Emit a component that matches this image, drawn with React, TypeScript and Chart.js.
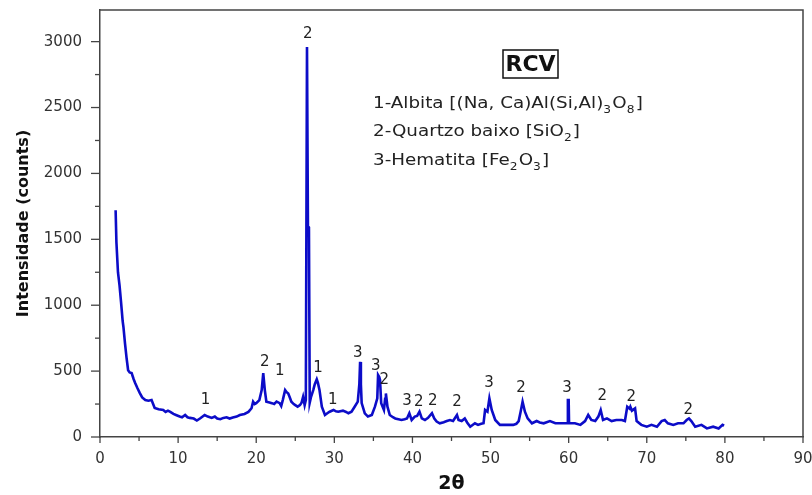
import React, { useEffect, useRef } from "react";
import { Chart, registerables } from "chart.js";
Chart.register(...registerables);

const twoTheta = [
  2.0, 2.1, 2.3, 2.5, 2.7, 2.9, 3.0, 3.2, 3.4, 3.6, 3.8, 4.05, 4.3, 4.5, 4.8, 5.1, 5.4, 5.8, 6.2, 6.6,
  6.8, 7.0, 7.5, 8.1, 8.4, 8.7, 9.0, 9.4, 9.8, 10.2, 10.5, 10.9, 11.2, 11.5, 12.0, 12.4, 12.8, 13.4, 13.8, 14.3,
  14.7, 15.0, 15.4, 15.8, 16.2, 16.6, 17.0, 17.5, 17.9, 18.5, 19.0, 19.4, 19.6, 19.8, 20.0, 20.4, 20.7, 20.9, 21.1, 21.3,
  21.7, 22.0, 22.3, 22.6, 23.0, 23.2, 23.4, 23.7, 23.9, 24.1, 24.3, 24.5, 24.8, 25.0, 25.3, 25.6, 25.8, 26.0, 26.2, 26.35,
  26.5, 26.62, 26.75, 26.85, 27.0, 27.3, 27.5, 27.75, 27.9, 28.1, 28.4, 28.8, 29.1, 29.4, 29.9, 30.2, 30.5, 31.1, 31.5, 31.8,
  32.2, 32.6, 33.0, 33.2, 33.3, 33.4, 33.5, 33.9, 34.3, 34.8, 35.2, 35.5, 35.6, 35.75, 35.85, 36.0, 36.35, 36.5, 36.6, 36.8,
  37.1, 37.5, 37.8, 38.2, 38.6, 39.0, 39.3, 39.6, 39.9, 40.3, 40.6, 40.9, 41.2, 41.6, 42.0, 42.5, 42.8, 43.1, 43.5, 44.0,
  44.4, 44.8, 45.2, 45.7, 45.9, 46.3, 46.7, 47.0, 47.4, 48.0, 48.4, 48.8, 49.1, 49.3, 49.6, 49.85, 50.15, 50.6, 51.2, 52.1,
  52.9, 53.3, 53.6, 53.85, 54.1, 54.4, 54.75, 55.3, 55.9, 56.3, 56.8, 57.6, 58.3, 59.3, 59.85, 59.9, 60.0, 60.05, 60.2, 60.8,
  61.5, 62.1, 62.5, 62.9, 63.4, 63.8, 64.1, 64.4, 64.9, 65.5, 66.1, 66.8, 67.2, 67.5, 67.8, 67.9, 68.1, 68.5, 68.7, 69.3,
  70.0, 70.6, 71.3, 71.9, 72.3, 72.7, 73.4, 74.0, 74.7, 75.1, 75.4, 75.7, 76.2, 77.0, 77.7, 78.5, 79.2, 79.7, 79.9,
];

const counts = [
  1720, 1480, 1250, 1150, 1020, 880, 835, 710, 600, 507, 490, 485, 440, 410, 370, 333, 300, 280, 275, 280,
  250, 220, 210, 205, 190, 200, 190, 175, 165, 155, 150, 167, 150, 145, 140, 125, 140, 167, 155, 145,
  155, 140, 135, 145, 150, 140, 148, 155, 167, 175, 190, 218, 268, 250, 257, 280, 356, 485, 356, 268,
  262, 257, 250, 268, 257, 235, 280, 356, 340, 330, 300, 268, 250, 242, 230, 242, 260, 305, 242, 280,
  2960, 1600, 1590, 260, 300, 356, 400, 437, 410, 356, 230, 167, 180, 192, 205, 195, 192, 200, 190, 180,
  192, 230, 268, 400, 570, 400, 257, 180, 155, 167, 230, 293, 470, 455, 432, 257, 205, 290, 330, 230,
  167, 150, 141, 135, 129, 135, 141, 180, 129, 155, 160, 192, 141, 129, 145, 180, 140, 117, 104, 112,
  121, 129, 121, 167, 129, 121, 141, 110, 78, 104, 92, 100, 104, 205, 192, 293, 205, 129, 92, 92,
  92, 100, 121, 192, 268, 192, 141, 104, 121, 110, 104, 121, 104, 104, 104, 280, 280, 104, 104, 104,
  92, 121, 167, 129, 121, 155, 205, 129, 141, 121, 129, 129, 121, 230, 215, 230, 200, 217, 121, 92,
  78, 92, 78, 121, 129, 104, 92, 104, 104, 129, 141, 121, 78, 92, 65, 78, 65, 92, 86,
];

// axis ticks (labelled every other one)
const xTickValues = [0, 5, 10, 15, 20, 25, 30, 35, 40, 45, 50, 55, 60, 65, 70, 75, 80, 85, 90];
const yTickValues = [0, 250, 500, 750, 1000, 1250, 1500, 1750, 2000, 2250, 2500, 2750, 3000];

// phase markers placed above peaks (2θ, counts, text)
const peakLabelX = [26.6, 13.5, 21.1, 23.0, 27.9, 29.8, 33.0, 35.3, 36.4, 39.3, 40.8, 42.6, 45.7, 49.8, 53.9, 59.8, 64.3, 68.0, 75.3];
const peakLabelY = [3060, 280, 568, 500, 523, 280, 636, 538, 432, 273, 265, 273, 265, 409, 371, 371, 311, 303, 205];
const peakLabelText = ["2", "1", "2", "1", "1", "1", "3", "3", "2", "3", "2", "2", "2", "3", "2", "3", "2", "2", "2"];

const sampleName = "RCV";
// legend lines: [text, isSubscript]
const legendLines: [string, boolean][][] = [
  [["1-Albita [(Na, Ca)Al(Si,Al)", false], ["3", true], ["O", false], ["8", true], ["]", false]],
  [["2-Quartzo baixo [SiO", false], ["2", true], ["]", false]],
  [["3-Hematita [Fe", false], ["2", true], ["O", false], ["3", true], ["]", false]],
];

const xTitle = "2θ";
const yTitle = "Intensidade (counts)";

const FAMILY = '"DejaVu Sans", sans-serif';

export default function App() {
  const ref = useRef<HTMLCanvasElement>(null);
  useEffect(() => {
    const data = twoTheta.map((x, i) => ({ x, y: counts[i] }));
    const annot = {
      id: "annot",
      afterDraw(chart: any) {
        const ctx = chart.ctx as CanvasRenderingContext2D;
        const { left, right, top, bottom } = chart.chartArea;
        const xs = chart.scales.x;
        const ys = chart.scales.y;
        ctx.save();
        // frame top/right
        ctx.strokeStyle = "#444";
        ctx.lineWidth = 1.5;
        ctx.beginPath();
        ctx.moveTo(left, top);
        ctx.lineTo(right, top);
        ctx.lineTo(right, bottom);
        ctx.stroke();
        // ticks
        ctx.lineWidth = 1.3;
        for (const t of xs.ticks) {
          const px = xs.getPixelForValue(t.value);
          const len = t.value % 10 === 0 ? 6 : 4;
          ctx.beginPath();
          ctx.moveTo(px, bottom);
          ctx.lineTo(px, bottom + len);
          ctx.stroke();
        }
        for (const t of ys.ticks) {
          const py = ys.getPixelForValue(t.value);
          const len = t.value % 500 === 0 ? 9 : 5;
          ctx.beginPath();
          ctx.moveTo(left, py);
          ctx.lineTo(left - len, py);
          ctx.stroke();
        }
        // peak labels
        ctx.fillStyle = "#222";
        ctx.font = `15px ${FAMILY}`;
        ctx.textAlign = "center";
        ctx.textBaseline = "middle";
        peakLabelText.forEach((s, i) => {
          ctx.fillText(s, xs.getPixelForValue(peakLabelX[i]), ys.getPixelForValue(peakLabelY[i]));
        });
        // sample box
        ctx.strokeStyle = "#111";
        ctx.lineWidth = 1.5;
        ctx.strokeRect(503, 50, 55, 28);
        ctx.fillStyle = "#111";
        ctx.font = `bold 22px ${FAMILY}`;
        ctx.fillText(sampleName, 530.5, 65);
        // legend (horizontally stretched like the original)
        ctx.textAlign = "left";
        ctx.fillStyle = "#222";
        const lineY = [104, 132, 161];
        const sx = 1.22;
        legendLines.forEach((segs, li) => {
          let x = 0;
          ctx.save();
          ctx.translate(373, 0);
          ctx.scale(sx, 1);
          for (const [txt, sub] of segs) {
            ctx.font = sub ? `10px ${FAMILY}` : `15px ${FAMILY}`;
            ctx.fillText(txt, x, lineY[li] + (sub ? 6 : 0));
            x += ctx.measureText(txt).width + (sub ? 1 : 0);
          }
          ctx.restore();
        });
        ctx.restore();
      },
    };
    const chart = new Chart(ref.current as HTMLCanvasElement, {
      type: "line",
      data: {
        datasets: [
          {
            data,
            borderColor: "#0c0cc8",
            borderWidth: 2.6,
            pointRadius: 0,
            tension: 0,
            fill: false,
          },
        ],
      },
      options: {
        animation: false,
        responsive: false,
        maintainAspectRatio: false,
        layout: { padding: { top: 10, right: 9, left: 0, bottom: 0 } },
        plugins: { legend: { display: false }, tooltip: { enabled: false } },
        scales: {
          x: {
            type: "linear",
            min: 0,
            max: 90,
            afterBuildTicks(s: any) {
              s.ticks = xTickValues.map((v) => ({ value: v }));
            },
            afterFit(s: any) {
              s.height = 58;
              s.paddingLeft = 0;
              s.paddingRight = 0;
              s.paddingTop = 0;
              s.paddingBottom = 0;
            },
            ticks: {
              autoSkip: false,
              maxRotation: 0,
              padding: 7,
              color: "#333",
              font: { family: FAMILY, size: 15 },
              callback: (v: any) => (Number(v) % 10 === 0 ? String(v) : ""),
            },
            grid: { drawOnChartArea: false, drawTicks: true, tickLength: 6, tickColor: "transparent" },
            border: { color: "#444", width: 1.5 },
            title: {
              display: true,
              text: xTitle,
              color: "#111",
              font: { family: FAMILY, size: 19, weight: "bold" },
              padding: { top: 0, bottom: 0 },
            },
          },
          y: {
            type: "linear",
            min: 0,
            max: 3240,
            afterBuildTicks(s: any) {
              s.ticks = yTickValues.map((v) => ({ value: v }));
            },
            afterFit(s: any) {
              s.width = 100;
              s.paddingLeft = 0;
              s.paddingRight = 0;
              s.paddingTop = 0;
              s.paddingBottom = 0;
            },
            ticks: {
              autoSkip: false,
              padding: 9,
              color: "#333",
              font: { family: FAMILY, size: 15 },
              callback: (v: any) => (Number(v) % 500 === 0 ? String(v) : ""),
            },
            grid: { drawOnChartArea: false, drawTicks: true, tickLength: 9, tickColor: "transparent" },
            border: { color: "#444", width: 1.5 },
            title: {
              display: true,
              text: yTitle,
              color: "#111",
              font: { family: FAMILY, size: 16, weight: "bold" },
              padding: { top: 14, bottom: 0 },
            },
          },
        },
      },
      plugins: [annot],
    });
    return () => chart.destroy();
  }, []);
  return (
    <div style={{ position: "fixed", left: 0, top: 0, width: 812, height: 495, background: "#fff" }}>
      <canvas ref={ref} width={812} height={495} style={{ display: "block" }} />
    </div>
  );
}
